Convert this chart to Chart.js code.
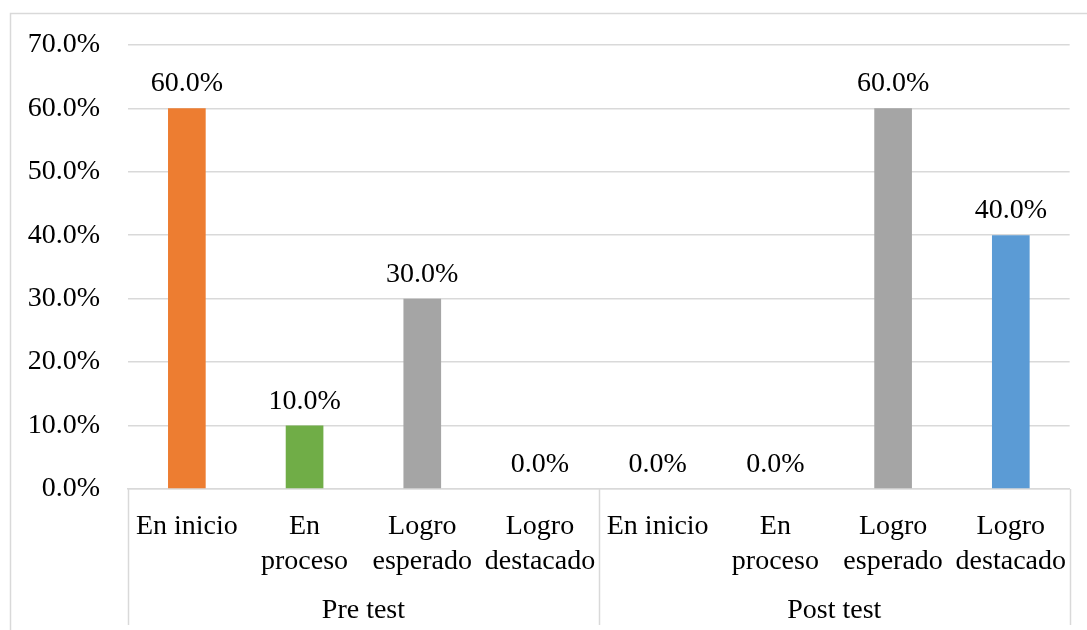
<!DOCTYPE html>
<html>
<head>
<meta charset="utf-8">
<script src="https://cdn.jsdelivr.net/npm/chart.js@4"></script>
<style>
    html, body { margin: 0; padding: 0; background: #fff; }
    #wrap { width: 1087px; height: 630px; position: relative; }
</style>
</head>
<body>
<div id="wrap"><canvas id="chart"></canvas></div>
<script>
const categories = [
    ['En inicio'], ['En', 'proceso'], ['Logro', 'esperado'], ['Logro', 'destacado'],
    ['En inicio'], ['En', 'proceso'], ['Logro', 'esperado'], ['Logro', 'destacado']
];
const groups = ['Pre test', 'Post test'];
const groupSize = 4;
const values = [60, 10, 30, 0, 0, 0, 60, 40];
const barColors = ['#ED7D31', '#70AD47', '#A5A5A5', '#A5A5A5', '#ED7D31', '#70AD47', '#A5A5A5', '#5B9BD5'];

const FONT = 'Liberation Serif, Times New Roman, serif';
const LINE = '#d9d9d9';

// outer frame, group separators, group names, value labels
const decor = {
    id: 'decor',
    beforeDraw(chart) {
        const c = chart.ctx;
        c.save();
        c.fillStyle = '#fff';
        c.fillRect(0, 0, chart.width, chart.height);
        c.strokeStyle = LINE;
        c.lineWidth = 1.5;
        c.strokeRect(10.5, 13.5, chart.width + 20, chart.height + 20);
        c.restore();
    },
    afterDraw(chart) {
        const c = chart.ctx;
        const x = chart.scales.x;
        const area = chart.chartArea;
        const step = (x.right - x.left) / categories.length;
        c.save();
        c.strokeStyle = LINE;
        c.lineWidth = 1.5;
        for (let g = 0; g <= groups.length; g++) {
            const px = Math.round(x.left + g * groupSize * step) + 0.5;
            c.beginPath();
            c.moveTo(px, area.bottom);
            c.lineTo(px, 625);
            c.stroke();
        }
        c.fillStyle = '#000';
        c.font = '28px ' + FONT;
        c.textAlign = 'center';
        c.textBaseline = 'alphabetic';
        groups.forEach((name, g) => {
            const cx = x.left + (g * groupSize + groupSize / 2) * step;
            c.fillText(name, cx, 618);
        });
        const meta = chart.getDatasetMeta(0);
        meta.data.forEach((bar, i) => {
            c.fillText(values[i].toFixed(1) + '%', bar.x, bar.y - 17);
        });
        c.restore();
    }
};

new Chart(document.getElementById('chart'), {
    type: 'bar',
    data: {
        labels: categories,
        datasets: [{
            data: values,
            backgroundColor: barColors,
            barPercentage: 0.32,
            categoryPercentage: 1.0
        }]
    },
    options: {
        responsive: true,
        maintainAspectRatio: false,
        animation: false,
        layout: { padding: { top: 41, right: 16, left: 10, bottom: 0 } },
        plugins: {
            legend: { display: false },
            tooltip: { enabled: false }
        },
        scales: {
            x: {
                grid: { display: false, drawTicks: false },
                border: { color: LINE, width: 1.5 },
                ticks: {
                    color: '#000',
                    padding: 20,
                    maxRotation: 0,
                    autoSkip: false,
                    font: { family: FONT, size: 28, lineHeight: 1.25 }
                },
                afterFit(scale) { scale.height = 141; }
            },
            y: {
                min: 0,
                max: 70,
                ticks: {
                    stepSize: 10,
                    color: '#000',
                    padding: 28,
                    font: { family: FONT, size: 28 },
                    callback: v => v.toFixed(1) + '%'
                },
                grid: { color: LINE, lineWidth: 1.5, drawTicks: false },
                border: { display: false },
                afterFit(scale) { scale.width = 118; }
            }
        }
    },
    plugins: [decor]
});
</script>
</body>
</html>
